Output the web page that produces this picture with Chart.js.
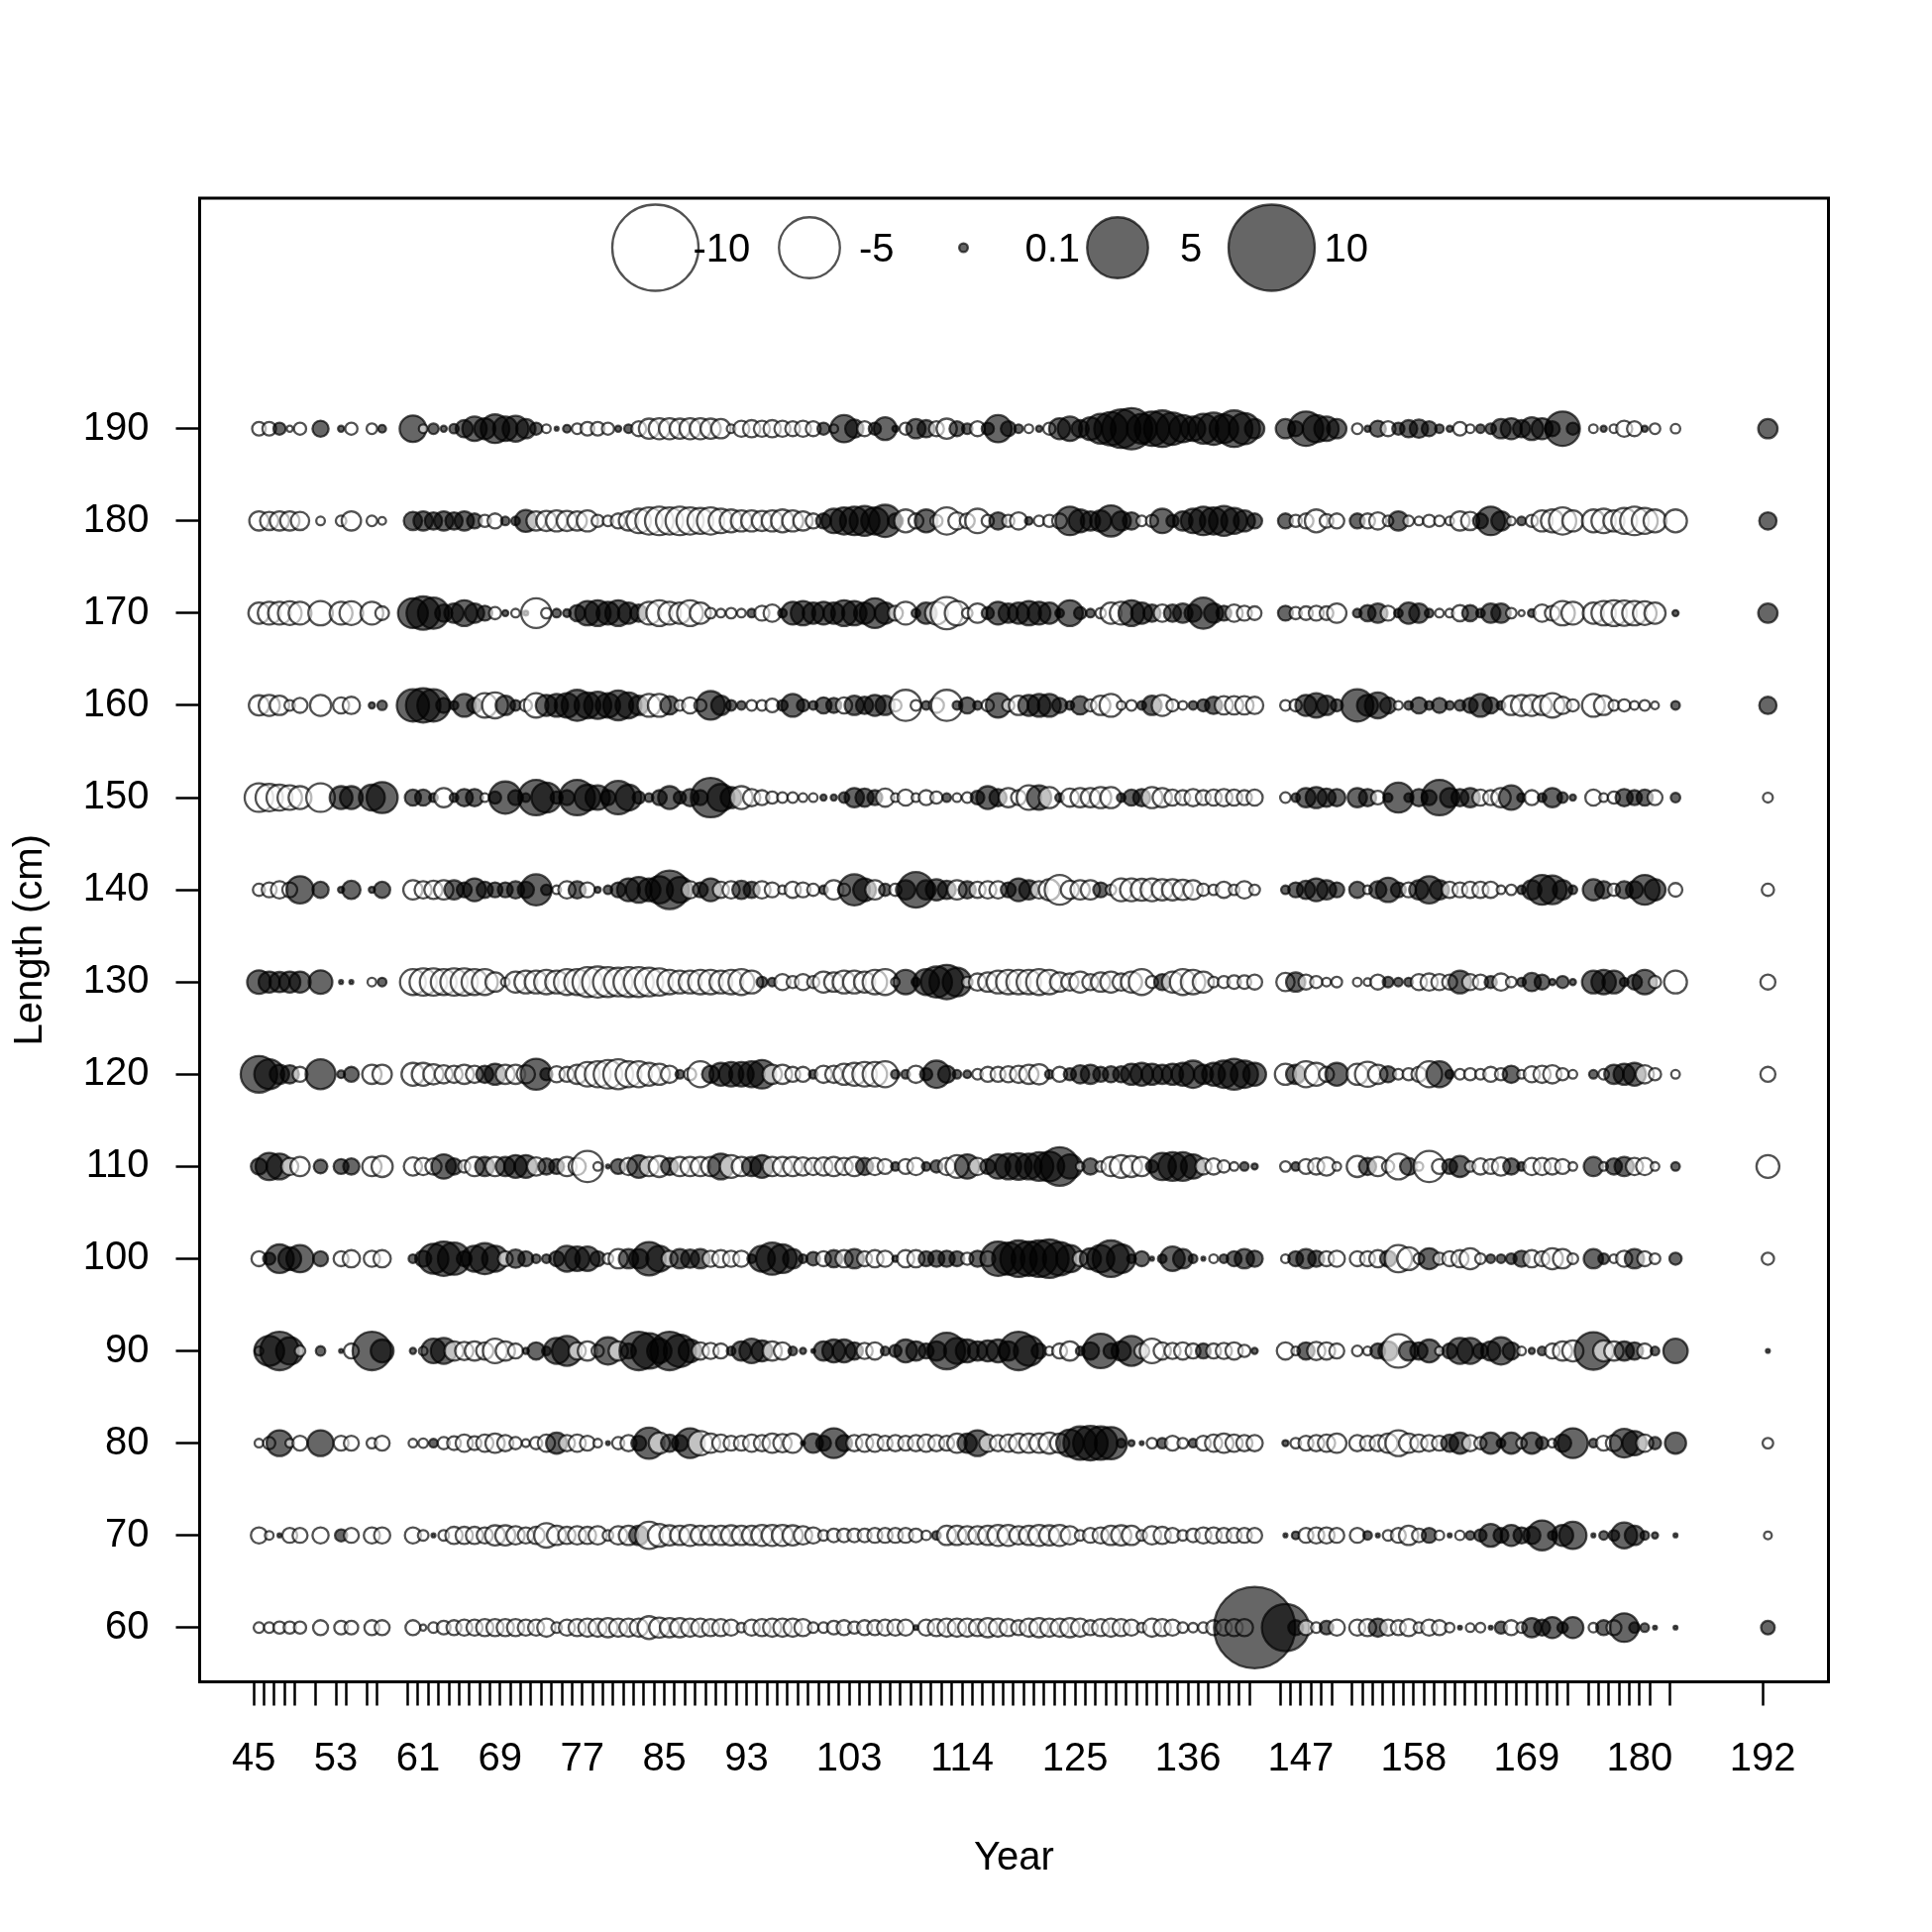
<!DOCTYPE html>
<html>
<head>
<meta charset="utf-8">
<script src="https://cdn.jsdelivr.net/npm/chart.js@4.4.1/dist/chart.umd.min.js"></script>
<style>
html,body{margin:0;padding:0;background:#ffffff;}
#wrap{width:1950px;height:1950px;}
</style>
</head>
<body>
<div id="wrap"><canvas id="c" width="1950" height="1950"></canvas></div>
<script>
// ---------------- DATA ----------------
const years = [
  45,46,47,48,49,51,53,54,56,57,
  60,61,62,63,64,65,66,67,68,69,
  70,71,72,73,74,75,76,77,78,79,
  80,81,82,83,84,85,86,87,88,89,
  90,91,92,93,94,95,96,97,98,99,
  100,101,102,103,104,105,106,107,108,109,
  110,111,112,113,114,115,116,117,118,119,
  120,121,122,123,124,125,126,127,128,129,
  130,131,132,133,134,135,136,137,138,139,
  140,141,142,
  145,146,147,148,149,150,
  152,153,154,155,156,157,158,159,160,161,162,163,164,165,166,167,168,169,170,171,172,173,
  175,176,177,178,179,180,181,
  183,192
];
const yearTickLabels = [45,53,61,69,77,85,93,103,114,125,136,147,158,169,180,192];
const lengthBins = [60,70,80,90,100,110,120,130,140,150,160,170,180,190];
const legendValues = [-10,-5,0.1,5,10];
const legendLabels = ['-10','-5','0.1','5','10'];

const len190 = [
  -0.25,-0.25,0.2,-0.05,-0.2,0.35,0.05,-0.2,-0.15,0.08,
  0.95,-0.1,0.15,0.05,0.12,0.4,0.8,0.6,1.1,0.8,
  0.9,0.5,0.2,-0.1,0.02,0.08,-0.15,-0.25,-0.25,-0.2,
  0.05,0.1,-0.3,-0.55,-0.6,-0.6,-0.55,-0.6,-0.6,-0.55,
  -0.5,-0.1,-0.35,-0.4,-0.35,-0.4,-0.35,-0.3,-0.35,-0.3,
  0.2,-0.1,1.0,0.45,-0.3,0.2,0.7,0.05,-0.2,0.5,
  0.4,-0.3,-0.55,0.3,0.15,-0.3,0.2,1.0,0.3,0.1,
  -0.1,0.05,-0.2,0.6,0.8,0.4,0.7,1.2,1.5,2.0,
  2.3,1.2,1.6,1.8,1.4,1.0,0.8,1.2,1.4,1.1,
  1.8,1.3,0.5,
  0.5,0.3,1.6,1.0,0.8,0.5,
  -0.15,0.05,0.35,-0.3,0.2,0.4,0.45,0.3,0.1,0.05,-0.25,-0.1,0.1,0.15,0.5,0.6,0.4,0.7,0.6,0.3,1.6,0.2,
  -0.1,0.05,-0.1,-0.35,-0.3,0.05,-0.15,
  -0.12,0.5
];
const len180 = [
  -0.5,-0.45,-0.5,-0.5,-0.45,-0.1,-0.15,-0.5,-0.15,-0.08,
  0.45,0.5,0.4,0.5,0.4,0.5,0.3,-0.2,-0.3,0.1,
  0.1,0.65,-0.5,-0.55,-0.6,-0.55,-0.5,-0.6,-0.2,-0.15,
  -0.3,-0.5,-0.8,-1.0,-1.1,-1.0,-1.1,-1.0,-0.9,-1.0,
  -0.8,-0.7,-0.6,-0.6,-0.55,-0.6,-0.7,-0.6,-0.5,-0.3,
  0.3,0.8,1.0,1.1,1.2,1.0,1.4,0.3,-0.7,-0.3,
  0.7,-0.2,-1.0,-0.4,-0.3,-0.8,-0.2,0.4,-0.2,-0.4,
  0.08,-0.15,-0.2,-0.3,1.1,0.7,0.5,0.6,1.3,0.5,
  0.4,-0.15,-0.2,0.8,0.2,0.5,0.8,1.1,1.0,1.2,
  0.9,0.6,0.3,
  0.3,-0.2,-0.3,-0.7,-0.25,-0.3,
  0.3,-0.3,-0.4,-0.15,0.5,-0.15,-0.1,-0.2,-0.15,-0.1,-0.5,-0.45,0.3,1.1,0.5,-0.1,0.1,-0.2,-0.6,-0.7,-1.0,-0.6,
  -0.7,-0.8,-0.6,-0.9,-1.1,-0.9,-0.7,
  -0.7,0.4
];
const len170 = [
  -0.6,-0.7,-0.7,-0.75,-0.7,-0.8,-0.7,-0.75,-0.7,-0.25,
  1.2,1.5,1.3,0.4,0.5,0.9,0.5,0.3,-0.2,0.05,
  -0.1,0.03,-1.2,-0.15,0.1,0.08,0.35,0.8,0.9,0.7,
  0.9,0.6,0.4,-0.7,-0.9,-0.7,-0.6,-0.9,-0.6,-0.15,
  -0.1,-0.15,-0.1,0.1,-0.3,-0.4,0.1,0.7,0.8,0.6,
  0.7,0.6,0.9,0.8,0.6,1.2,0.6,-0.3,-0.7,0.1,
  0.6,-0.7,-1.4,-0.8,-0.15,-0.5,0.2,0.7,0.5,0.6,
  0.8,0.7,0.6,0.1,0.9,0.2,0.1,-0.15,-0.6,-0.7,
  0.9,0.6,0.4,-0.4,0.4,0.5,0.4,1.3,0.5,0.3,
  -0.4,-0.3,-0.25,
  0.3,-0.2,-0.25,-0.3,-0.25,-0.5,
  0.1,0.35,0.5,-0.3,0.1,0.6,0.5,0.1,-0.1,-0.1,-0.35,0.35,0.1,0.5,0.5,-0.15,-0.05,0.08,-0.4,-0.3,-0.8,-0.7,
  -0.6,-0.8,-0.9,-0.85,-0.8,-0.75,-0.6,
  0.05,0.5
];
const len160 = [
  -0.55,-0.6,-0.5,-0.15,-0.3,-0.6,-0.35,-0.4,0.05,0.12,
  1.4,1.6,1.4,0.3,0.1,0.7,0.3,-0.8,-0.9,0.5,
  0.15,-0.2,-0.8,0.6,0.7,0.8,1.3,0.9,1.0,0.8,
  1.2,0.9,0.5,-0.7,-0.7,0.45,-0.15,-0.35,-0.2,1.1,
  0.5,0.15,0.1,-0.15,-0.15,-0.25,0.15,0.7,0.2,0.1,
  0.35,0.3,-0.35,0.5,0.4,0.6,0.5,-0.2,-1.3,-0.15,
  0.1,-0.3,-1.3,0.1,0.35,0.1,-0.2,0.8,-0.2,-0.5,
  0.6,0.7,0.7,0.3,0.1,0.45,-0.2,-0.5,-0.7,-0.1,
  -0.15,0.1,0.5,-0.6,-0.2,-0.1,0.1,0.2,0.4,-0.45,
  -0.45,-0.45,-0.4,
  -0.15,-0.2,0.6,0.8,0.5,0.2,
  1.4,0.6,0.9,0.35,-0.1,0.1,0.35,0.1,0.3,0.1,0.15,0.3,0.7,0.35,0.1,-0.5,-0.6,-0.6,-0.5,-0.8,-0.4,-0.2,
  -0.7,-0.5,-0.15,-0.2,-0.1,-0.15,-0.08,
  0.1,0.4
];
const len150 = [
  -1.1,-1.0,-0.9,-0.8,-0.7,-1.1,0.7,0.7,0.9,1.3,
  0.35,0.35,0.1,-0.5,0.1,0.4,0.4,-0.1,0.2,1.4,
  0.3,0.1,1.7,1.2,0.2,0.3,1.7,0.9,0.8,0.3,
  1.5,0.9,0.2,0.1,0.3,0.7,0.2,0.4,0.3,2.1,
  1.0,0.6,-0.7,-0.4,-0.3,-0.2,-0.15,-0.15,-0.1,-0.1,
  0.05,0.05,0.15,0.5,0.45,0.3,-0.45,-0.1,-0.35,-0.1,
  -0.3,-0.2,0.1,-0.1,-0.15,0.25,0.7,0.4,-0.5,-0.3,
  -0.8,0.8,-0.6,0.1,-0.45,-0.5,-0.5,-0.6,-0.6,0.1,
  0.35,0.4,-0.6,-0.5,-0.35,-0.3,-0.4,-0.3,-0.35,-0.4,
  -0.35,-0.3,-0.35,
  -0.15,0.1,0.5,0.6,0.45,0.4,
  0.5,0.4,-0.25,0.1,1.2,0.1,0.4,0.3,1.7,0.5,0.4,0.5,-0.35,-0.3,-0.5,0.8,0.1,-0.3,0.1,0.5,0.15,0.05,
  -0.35,-0.1,-0.2,0.4,0.3,0.35,-0.3,
  0.12,-0.13
];
const len140 = [
  -0.2,-0.3,-0.4,-0.3,1.0,0.35,0.05,0.45,0.05,0.35,
  -0.5,-0.4,-0.45,-0.5,0.5,0.3,0.7,0.35,0.3,0.3,
  0.4,0.35,1.3,0.15,-0.1,-0.4,0.4,-0.3,0.05,0.1,
  0.3,0.7,0.9,0.7,1.0,2.0,0.9,-0.4,0.3,0.7,
  -0.35,-0.4,0.45,0.35,-0.4,-0.3,-0.1,-0.35,-0.3,-0.2,
  0.1,-0.5,-0.2,1.3,0.7,-0.5,0.2,-0.2,0.5,1.7,
  0.5,0.6,0.45,-0.5,0.4,-0.35,-0.4,-0.4,0.3,0.7,
  0.5,-0.4,-0.6,-1.2,-0.45,-0.5,-0.5,0.3,-0.15,-0.7,
  -0.7,-0.65,-0.7,-0.6,-0.6,-0.55,-0.5,-0.2,-0.15,-0.35,
  -0.15,-0.4,-0.15,
  0.1,0.3,0.45,0.7,0.5,0.3,
  0.35,-0.1,0.4,0.8,0.3,-0.3,0.5,1.0,0.5,-0.35,-0.3,-0.35,-0.35,-0.35,-0.1,-0.15,0.1,0.5,1.2,1.1,0.5,0.1,
  0.6,0.4,-0.2,0.4,0.4,1.2,0.6,
  -0.25,-0.2
];
const len130 = [
  0.75,0.6,0.55,0.6,0.6,0.75,0.02,0.02,-0.1,0.1,
  -0.9,-1.0,-1.0,-0.9,-1.0,-1.0,-0.9,-0.9,-0.5,-0.1,
  -0.6,-0.7,-0.7,-0.8,-0.7,-0.9,-0.9,-1.2,-1.3,-1.2,
  -1.1,-1.2,-1.2,-1.1,-1.0,-0.8,-0.7,-0.7,-0.8,-0.8,
  -0.7,-0.8,-0.9,-0.7,0.15,0.1,-0.35,-0.2,-0.35,-0.2,
  -0.6,-0.5,-0.7,-0.7,-0.6,-0.8,-0.9,-0.1,0.8,0.1,
  0.9,1.3,1.6,1.1,-0.15,-0.4,-0.5,-0.7,-0.8,-0.8,
  -0.8,-0.9,-0.8,-0.5,-0.4,-0.6,-0.35,-0.5,-0.6,-0.4,
  -0.6,-0.9,-0.2,0.35,-0.6,-0.9,-0.8,-0.6,-0.15,-0.2,
  -0.25,-0.25,-0.3,
  -0.45,0.5,-0.3,-0.2,-0.1,-0.15,
  -0.1,-0.08,-0.3,0.15,0.1,0.1,-0.35,-0.4,-0.35,-0.3,0.7,-0.35,-0.3,0.2,-0.4,-0.15,0.1,0.45,0.3,0.05,0.2,0.05,
  0.7,0.8,0.7,0.1,0.3,0.8,-0.2,
  -0.7,-0.3
];
const len120 = [
  1.8,1.2,0.5,0.45,-0.3,1.2,0.08,0.3,-0.5,-0.5,
  -0.7,-0.7,-0.55,-0.45,-0.4,-0.5,-0.4,0.4,0.6,-0.5,
  -0.5,-0.45,1.3,0.2,-0.35,-0.3,-0.5,-0.8,-0.9,-1.1,
  -1.2,-0.9,-0.9,-0.7,-0.6,-0.4,0.1,-0.2,-0.9,0.4,
  0.7,0.8,0.8,0.9,1.1,-0.5,-0.5,-0.3,-0.3,0.1,
  -0.4,-0.4,-0.6,-0.7,-0.8,-0.8,-0.9,0.1,0.1,-0.4,
  0.2,1.0,0.4,0.1,0.08,-0.15,-0.3,-0.3,-0.35,-0.4,
  -0.5,-0.55,0.1,-0.3,0.2,0.45,0.5,0.3,0.35,0.35,
  0.6,0.7,0.6,0.5,0.6,0.7,1.0,0.5,0.7,1.0,
  1.3,1.0,0.7,
  -0.6,0.5,-0.9,-0.7,-0.3,0.7,
  -0.6,-0.85,-0.5,0.35,-0.15,-0.2,-0.3,-0.9,0.9,0.1,-0.15,-0.2,-0.15,-0.3,-0.2,0.4,-0.1,-0.35,-0.4,-0.45,-0.2,-0.1,
  0.1,-0.15,0.5,0.6,0.7,-0.45,-0.2,
  -0.1,-0.3
];
const len110 = [
  0.35,1.0,0.9,-0.4,-0.5,0.25,0.3,0.35,-0.5,-0.6,
  -0.45,-0.4,-0.35,0.8,0.35,-0.2,-0.5,0.5,-0.5,0.5,
  0.7,0.7,-0.45,0.35,0.3,-0.5,-0.4,-1.3,-0.1,0.02,
  0.3,-0.4,0.7,-0.5,-0.6,0.4,-0.5,-0.5,-0.5,-0.5,
  0.9,-0.7,-0.5,0.5,0.7,-0.5,-0.5,-0.5,-0.45,-0.4,
  -0.45,-0.5,-0.4,-0.5,0.4,-0.4,-0.3,0.1,-0.3,-0.4,
  0.1,0.2,-0.4,-0.7,0.8,-0.4,0.3,0.8,0.9,0.95,
  0.9,1.1,1.2,2.0,0.8,-0.1,0.35,-0.15,-0.5,-0.7,
  -0.6,-0.5,0.2,1.0,1.1,1.1,0.8,-0.35,-0.35,-0.2,
  -0.1,0.1,0.05,
  -0.15,0.1,-0.3,-0.35,-0.45,-0.1,
  -0.6,0.4,-0.5,-0.2,-0.9,0.4,-0.1,-1.3,-0.3,0.3,0.6,-0.15,-0.35,-0.3,-0.45,0.35,0.1,-0.4,-0.4,-0.35,-0.3,-0.1,
  0.5,-0.1,0.35,0.5,-0.4,-0.4,-0.1,
  0.1,-0.7
];
const len100 = [
  -0.3,0.2,1.1,0.7,1.0,0.3,-0.3,-0.4,-0.35,-0.4,
  0.1,0.35,1.2,1.6,1.4,0.3,0.9,1.3,0.9,-0.3,
  0.45,0.3,0.1,0.1,0.3,0.9,0.8,0.8,0.3,-0.15,
  -0.5,0.5,0.5,1.5,0.9,-0.35,0.5,0.45,0.5,-0.35,
  -0.4,-0.35,-0.35,0.1,0.9,1.4,1.1,0.5,0.1,0.25,
  -0.3,0.4,-0.4,0.5,-0.3,-0.4,-0.35,0.05,-0.4,-0.4,
  0.3,0.35,0.35,0.3,-0.2,0.35,-0.3,1.6,1.4,1.8,
  1.6,1.8,2.0,1.5,1.0,-0.3,0.6,1.0,1.8,1.1,
  0.1,0.3,0.02,0.1,0.8,0.5,0.1,0.02,-0.1,0.1,
  0.3,0.5,0.35,
  -0.1,0.3,0.5,0.35,-0.3,-0.35,
  -0.3,-0.3,-0.4,0.35,-1.0,-0.7,-0.15,0.6,-0.2,-0.3,-0.4,-0.6,-0.15,0.1,0.1,0.15,0.35,-0.4,-0.3,-0.6,-0.5,-0.15,
  0.5,0.15,-0.1,-0.35,0.5,-0.3,-0.15,
  0.2,-0.2
];
const len90 = [
  -0.1,1.2,2.0,1.0,-0.15,0.12,0.02,-0.3,2.0,0.7,
  0.05,-0.1,0.8,0.9,-0.5,-0.45,-0.5,-0.4,-0.8,-0.5,
  -0.3,0.05,0.4,0.1,0.9,1.2,-0.4,-0.5,-0.2,1.0,
  -0.5,0.3,2.0,1.7,0.8,2.0,1.4,0.7,-0.4,-0.35,
  -0.3,0.1,0.5,0.8,0.6,-0.5,-0.4,0.1,0.05,0.02,
  0.5,0.7,0.7,0.4,-0.35,-0.4,0.1,0.2,0.7,0.5,
  0.3,0.5,1.8,0.9,0.7,0.5,0.6,0.7,0.5,2.0,
  1.2,0.3,-0.1,-0.3,-0.5,0.1,0.4,1.6,0.3,0.5,
  1.2,-0.3,-0.8,-0.4,-0.35,-0.4,-0.3,0.3,-0.3,-0.35,
  -0.4,-0.2,0.05,
  -0.4,-0.1,0.4,-0.45,-0.4,-0.3,
  -0.15,-0.1,0.3,0.5,-1.5,0.5,0.4,0.7,-0.1,0.3,0.9,0.9,0.3,0.5,1.0,0.4,-0.1,0.05,0.1,-0.3,-0.5,-0.6,
  1.9,-0.6,-0.5,0.5,0.4,-0.3,0.1,
  0.8,0.02
];
const len80 = [
  -0.1,-0.2,0.9,-0.1,-0.3,0.9,-0.3,-0.3,-0.15,-0.3,
  -0.1,-0.12,0.1,-0.2,-0.25,-0.4,-0.25,-0.4,-0.5,-0.35,
  -0.2,-0.08,-0.2,-0.4,0.6,-0.35,-0.4,-0.3,-0.1,0.02,
  -0.2,-0.35,0.3,1.3,-0.6,0.4,0.35,1.2,-0.8,-0.5,
  -0.4,-0.3,-0.3,-0.4,-0.35,-0.5,-0.45,-0.5,0.02,0.5,
  0.3,1.2,0.35,-0.35,-0.4,-0.4,-0.3,-0.35,-0.3,-0.35,
  -0.4,-0.35,-0.3,-0.5,0.5,0.9,-0.4,-0.35,-0.4,-0.5,
  -0.5,-0.5,-0.6,-0.5,1.0,1.5,1.6,1.5,1.4,0.1,
  0.05,0.02,-0.15,0.15,-0.3,-0.15,0.1,-0.3,-0.4,-0.5,
  -0.4,-0.35,-0.35,
  0.05,-0.15,-0.3,-0.35,-0.4,-0.5,
  -0.35,-0.3,-0.35,-0.5,-0.9,-0.5,-0.4,-0.35,-0.3,0.4,0.6,-0.35,-0.2,0.6,0.1,0.6,-0.15,0.6,0.2,-0.1,0.4,1.2,
  0.1,-0.3,-0.35,1.1,0.8,-0.4,0.2,
  0.6,-0.15
];
const len70 = [
  -0.35,-0.1,0.02,-0.3,-0.3,-0.35,0.2,-0.3,-0.35,-0.35,
  -0.35,-0.15,0.02,-0.15,-0.4,-0.4,-0.4,-0.35,-0.55,-0.55,
  -0.45,-0.35,-0.4,-0.8,-0.5,-0.4,-0.45,-0.4,-0.45,-0.15,
  -0.45,-0.5,0.5,-1.0,-0.7,-0.55,-0.5,-0.6,-0.5,-0.5,
  -0.5,-0.55,-0.5,-0.5,-0.6,-0.6,-0.6,-0.55,-0.45,-0.35,
  -0.15,-0.25,-0.25,-0.25,-0.25,-0.3,-0.3,-0.3,-0.3,-0.25,
  -0.12,0.1,-0.5,-0.5,-0.45,-0.45,-0.5,-0.6,-0.6,-0.45,
  -0.5,-0.6,-0.55,-0.6,-0.45,-0.15,-0.3,-0.35,-0.5,-0.55,
  -0.5,-0.15,-0.45,-0.4,-0.3,-0.15,-0.25,-0.35,-0.35,-0.3,
  -0.3,-0.3,-0.3,
  0.02,0.08,-0.3,-0.35,-0.35,-0.3,
  -0.3,0.1,0.02,-0.15,-0.3,-0.5,-0.25,0.3,-0.12,0.02,-0.12,0.1,0.2,0.7,0.3,0.6,0.35,0.4,1.2,0.1,0.6,1.0,
  0.02,0.1,0.15,0.9,0.5,0.1,0.05,
  0.02,-0.08
];
const len60 = [
  -0.15,-0.15,-0.2,-0.2,-0.2,-0.3,-0.25,-0.25,-0.3,-0.3,
  -0.3,-0.05,-0.15,-0.25,-0.3,-0.35,-0.35,-0.4,-0.4,-0.4,
  -0.4,-0.35,-0.35,-0.45,-0.15,-0.35,-0.4,-0.45,-0.45,-0.5,
  -0.45,-0.45,-0.45,-0.7,-0.55,-0.5,-0.5,-0.45,-0.45,-0.4,
  -0.4,-0.35,-0.12,-0.35,-0.4,-0.45,-0.45,-0.45,-0.4,-0.15,
  -0.15,-0.25,-0.3,-0.2,-0.3,-0.3,-0.35,-0.35,-0.35,0.03,
  -0.35,-0.4,-0.45,-0.45,-0.45,-0.4,-0.5,-0.45,-0.4,-0.3,
  -0.45,-0.5,-0.45,-0.45,-0.5,-0.45,-0.3,-0.4,-0.45,-0.4,
  -0.35,-0.12,-0.45,-0.4,-0.35,-0.15,-0.12,-0.15,-0.3,-0.35,
  -0.4,-0.4,8.9,
  3.0,0.3,-0.3,-0.15,0.25,-0.35,
  -0.35,-0.4,0.45,-0.35,-0.3,-0.4,-0.15,-0.35,-0.3,-0.12,0.02,-0.1,-0.12,0.02,0.2,-0.3,-0.15,0.5,0.35,0.6,0.15,0.6,
  -0.12,0.3,-0.3,1.1,0.15,0.1,0.02,
  0.02,0.25
];

// ---------------- BUILD ----------------
const rowsByLength = {
  60: len60, 70: len70, 80: len80, 90: len90, 100: len100, 110: len110, 120: len120,
  130: len130, 140: len140, 150: len150, 160: len160, 170: len170, 180: len180, 190: len190
};
// bubbles sit at mid-year (year + 0.5) while the ticks mark the whole years
const MID_YEAR = 0.5;
const points = [];
for (const L of lengthBins) {
  const arr = rowsByLength[L];
  if (arr.length !== years.length) throw new Error('Row ' + L + ' has ' + arr.length + ' values, expected ' + years.length);
  arr.forEach((v, i) => points.push({ x: years[i] + MID_YEAR, y: L, v: v }));
}

const FONT = "'Liberation Sans', Arial, Helvetica, sans-serif";
const RADIUS_K = 13.76;           // pixel radius for |value| = 1 (area proportional to |value|)
const POS_FILL = 'rgba(0,0,0,0.6)';
const NEG_FILL = 'rgba(255,255,255,0.6)';
const EDGE = 'rgba(0,0,0,0.68)';
const radiusOf = v => RADIUS_K * Math.sqrt(Math.abs(v));

const boxAndLegend = {
  id: 'boxAndLegend',
  afterDatasetsDraw(chart) {
    const { ctx, chartArea: a } = chart;
    ctx.save();
    const cy = a.top + 50;
    const cxOffsets = [460, 615.5, 771, 926.5, 1082];
    const txtOffsets = [38, 50, 62, 63, 53];
    ctx.font = '40px ' + FONT;
    ctx.textBaseline = 'middle';
    ctx.textAlign = 'left';
    legendValues.forEach((v, i) => {
      const cx = a.left + cxOffsets[i];
      ctx.beginPath();
      ctx.arc(cx, cy, radiusOf(v), 0, Math.PI * 2);
      ctx.fillStyle = v > 0 ? POS_FILL : NEG_FILL;
      ctx.fill();
      ctx.lineWidth = 2.3;
      ctx.strokeStyle = EDGE;
      ctx.stroke();
      ctx.fillStyle = '#000';
      ctx.fillText(legendLabels[i], cx + txtOffsets[i], cy + 3);
    });
    ctx.lineWidth = 3;
    ctx.strokeStyle = '#000';
    ctx.strokeRect(a.left, a.top, a.right - a.left, a.bottom - a.top);
    ctx.restore();
  }
};

new Chart(document.getElementById('c'), {
  type: 'bubble',
  data: {
    datasets: [{
      data: points,
      backgroundColor: ctx => (ctx.raw && ctx.raw.v > 0) ? POS_FILL : NEG_FILL,
      borderColor: EDGE,
      borderWidth: 2.3,
      radius: ctx => ctx.raw ? radiusOf(ctx.raw.v) : 0,
      hoverRadius: 0
    }]
  },
  options: {
    responsive: false,
    maintainAspectRatio: false,
    animation: false,
    devicePixelRatio: 1,
    events: [],
    layout: { padding: { top: 200, right: 104.5, bottom: 0, left: 0 } },
    plugins: { legend: { display: false }, tooltip: { enabled: false } },
    scales: {
      x: {
        type: 'linear',
        min: 39.72,
        max: 198.4,
        afterBuildTicks: s => { s.ticks = years.map(v => ({ value: v })); },
        afterFit: s => { s.height = 252.5; },
        grid: { drawOnChartArea: false, drawTicks: true, tickLength: 24, tickWidth: 2.5, tickColor: '#000' },
        border: { display: false },
        ticks: {
          autoSkip: false, maxRotation: 0, minRotation: 0, padding: 30, color: '#000',
          font: { family: FONT, size: 40 },
          callback: v => yearTickLabels.includes(v) ? String(v) : ''
        },
        title: { display: true, text: 'Year', color: '#000', font: { family: FONT, size: 40 }, padding: { top: 0, bottom: 50 } }
      },
      y: {
        type: 'linear',
        min: 54.12,
        max: 215,
        afterBuildTicks: s => { s.ticks = lengthBins.map(v => ({ value: v })); },
        afterFit: s => { s.width = 201.5; },
        grid: { drawOnChartArea: false, drawTicks: true, tickLength: 24, tickWidth: 2.5, tickColor: '#000' },
        border: { display: false },
        ticks: {
          autoSkip: false, padding: 27, color: '#000',
          font: { family: FONT, size: 40 },
          callback: v => String(v)
        },
        title: { display: true, text: 'Length (cm)', color: '#000', font: { family: FONT, size: 40 }, padding: { top: 7, bottom: 0 } }
      }
    }
  },
  plugins: [boxAndLegend]
});
</script>
</body>
</html>
